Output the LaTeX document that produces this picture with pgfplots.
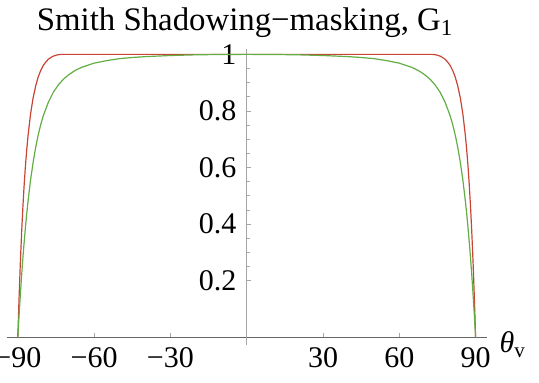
\documentclass[border=0pt]{standalone}
\usepackage{fontspec}
\setmainfont{Liberation Serif}
\usepackage{pgfplots}
\pgfplotsset{compat=1.18}
\definecolor{redc}{RGB}{200,68,52}
\definecolor{greenc}{RGB}{98,174,68}
\begin{document}
\begin{tikzpicture}
\useasboundingbox (-3.45pt,-19pt) rectangle (266.05pt,172.5pt);
\begin{axis}[
  at={(0,0)}, anchor=south west,
  scale only axis, width=239.8pt, height=147.85pt,
  xmin=-94.3, xmax=94.3, ymin=-0.027, ymax=1.018,
  axis lines=middle,
  axis line style={-, gray!70, line width=0.5pt},
  x axis line style={gray!80!black},
  tick align=inside,
  tick style={gray!70, line width=0.4pt},
  major tick length=2pt, minor tick length=1.5pt,
  xtick={-90,-60,-30,30,60,90},
  xticklabels={−90,−60,−30,30,60,90},
  ytick={0.2,0.4,0.6,0.8,1},
  yticklabels={0.2,0.4,0.6,0.8,1},
  minor y tick num=3,
  minor xtick={},
  ticklabel style={font=\fontsize{15}{18}\selectfont, text=black},
  xticklabel style={anchor=north, yshift=-1.4pt},
  yticklabel style={anchor=east, xshift=-1.6pt},
  clip=false,
  every axis title shift=0pt,
  title={Smith Shadowing−masking, G\textsubscript{1}},
  title style={at={(axis cs:-0.6,1.018)}, anchor=base, yshift=9.6pt, font=\fontsize{16.4}{19}\selectfont},
  xlabel={\textit{θ}\textsubscript{v}},
  xlabel style={at={(rel axis cs:1,0)}, anchor=base west, xshift=3pt, yshift=-4pt, font=\fontsize{15}{18}\selectfont},
]
\addplot[redc, line width=0.6pt, line join=round] coordinates {
(-90,0) (-89.75,0.074) (-89.5,0.143) (-89,0.267) (-88.5,0.373) (-88,0.463) (-87.5,0.541) (-87,0.607)
(-86.5,0.663) (-86,0.712) (-85,0.789) (-84,0.846) (-83,0.888) (-82,0.920) (-81,0.943) (-80,0.961)
(-79,0.973) (-78,0.983) (-77,0.989) (-76,0.994) (-75,0.997) (-74,0.999) (-73,1.0) (-60,1.0) (0,1.0)
(60,1.0) (73,1.0) (74,0.999) (75,0.997) (76,0.994) (77,0.989) (78,0.983) (79,0.973) (80,0.961)
(81,0.943) (82,0.920) (83,0.888) (84,0.846) (85,0.789) (86,0.712) (86.5,0.663) (87,0.607)
(87.5,0.541) (88,0.463) (88.5,0.373) (89,0.267) (89.5,0.143) (89.75,0.074) (90,0)
};
\addplot[greenc, line width=0.6pt, line join=round] coordinates {
(-90,0) (-89.75,0.041) (-89.5,0.080) (-89,0.153) (-88.5,0.220) (-88,0.282) (-87.5,0.338) (-87,0.390)
(-86.5,0.437) (-86,0.480) (-85,0.556) (-84,0.618) (-83,0.671) (-82,0.715) (-81,0.752) (-80,0.783)
(-78,0.831) (-76,0.867) (-74,0.893) (-72,0.913) (-70,0.928) (-67.5,0.943) (-65,0.954) (-60,0.969)
(-55,0.978) (-50,0.985) (-45,0.989) (-40,0.992) (-30,0.996) (-20,0.9985) (-10,0.9997) (0,1)
(10,0.9997) (20,0.9985) (30,0.996) (40,0.992) (45,0.989) (50,0.985) (55,0.978) (60,0.969)
(65,0.954) (67.5,0.943) (70,0.928) (72,0.913) (74,0.893) (76,0.867) (78,0.831) (80,0.783)
(81,0.752) (82,0.715) (83,0.671) (84,0.618) (85,0.556) (86,0.480) (86.5,0.437) (87,0.390)
(87.5,0.338) (88,0.282) (88.5,0.220) (89,0.153) (89.5,0.080) (89.75,0.041) (90,0)
};
\end{axis}
\end{tikzpicture}
\end{document}
